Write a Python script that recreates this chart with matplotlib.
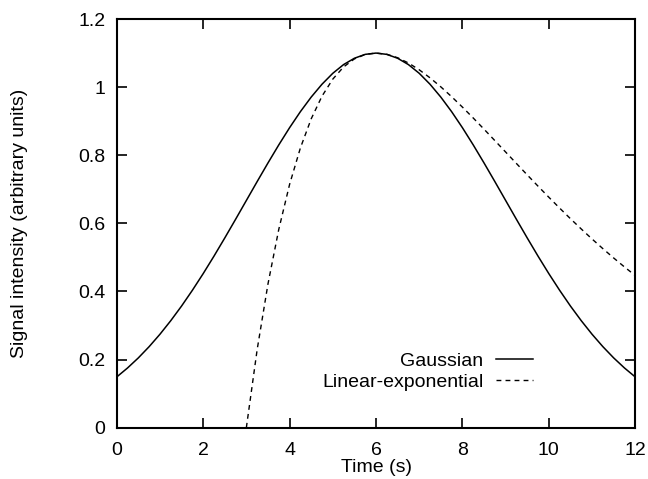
import numpy as np
from matplotlib import pyplot as plt
from matplotlib.ticker import FuncFormatter

plt.rcParams['font.family'] = ['Liberation Sans', 'DejaVu Sans']

# values (signal intensity, arbitrary units)
# gaussian sampled every 0.25 s from 0 to 12 s
gauss_t = np.arange(0, 12.01, 0.25)
gauss_half = [0.1489, 0.1753, 0.2049, 0.2379, 0.2743, 0.3141, 0.3571, 0.4033,
              0.4522, 0.5036, 0.5570, 0.6117, 0.6672, 0.7227, 0.7773, 0.8303,
              0.8808, 0.9279, 0.9707, 1.0085, 1.0406, 1.0662, 1.0848, 1.0962]
gauss_val = gauss_half + [1.1000] + gauss_half[::-1]

# linear-exponential, starts at 3 s, sampled every 0.25 s
linexp_t = np.arange(3, 12.01, 0.25)
linexp_val = [0.0, 0.2293, 0.4219, 0.5822, 0.7142, 0.8213, 0.9068, 0.9734,
              1.0235, 1.0593, 1.0829, 1.0960, 1.1000, 1.0964, 1.0863, 1.0709,
              1.0509, 1.0273, 1.0008, 0.9719, 0.9413, 0.9093, 0.8765, 0.8430,
              0.8094, 0.7757, 0.7422, 0.7091, 0.6766, 0.6447, 0.6136, 0.5834,
              0.5540, 0.5257, 0.4983, 0.4719, 0.4466]

xticks = [0, 2, 4, 6, 8, 10, 12]
yticks = [0, 0.2, 0.4, 0.6, 0.8, 1.0, 1.2]

FS = 14

fig = plt.figure(figsize=(6.48, 4.79), dpi=100)
ax = fig.add_axes([0.1801, 0.1071, 0.8003, 0.8532])

ax.plot(gauss_t, gauss_val, color='black', lw=1.1, label='Gaussian')
ax.plot(linexp_t, linexp_val, color='black', lw=1.0, dashes=(3.5, 3),
        label='Linear-exponential')

ax.set_xlim(0, 12)
ax.set_ylim(0, 1.2)
ax.set_xticks(xticks)
ax.set_yticks(yticks)
ax.yaxis.set_major_formatter(FuncFormatter(lambda v, p: '%g' % v))
ax.xaxis.set_major_formatter(FuncFormatter(lambda v, p: '%g' % v))
ax.tick_params(direction='in', length=7, width=1.2, top=True, right=True,
               labelsize=FS)
ax.tick_params(axis='x', pad=10)
ax.tick_params(axis='y', pad=8)
for s in ax.spines.values():
    s.set_linewidth(1.5)

ax.set_xlabel('Time (s)', fontsize=FS)
ax.set_ylabel('Signal intensity (arbitrary units)', fontsize=FS)
ax.xaxis.set_label_coords(0.5, -0.077)
ax.yaxis.set_label_coords(-0.171, 0.5)

ax.legend(loc='center right', bbox_to_anchor=(0.8027, 0.137), frameon=False,
          markerfirst=False, fontsize=FS, handlelength=1.9, handletextpad=0.65,
          borderpad=0, borderaxespad=0, labelspacing=0.2)

plt.savefig('out.png', dpi=100)
